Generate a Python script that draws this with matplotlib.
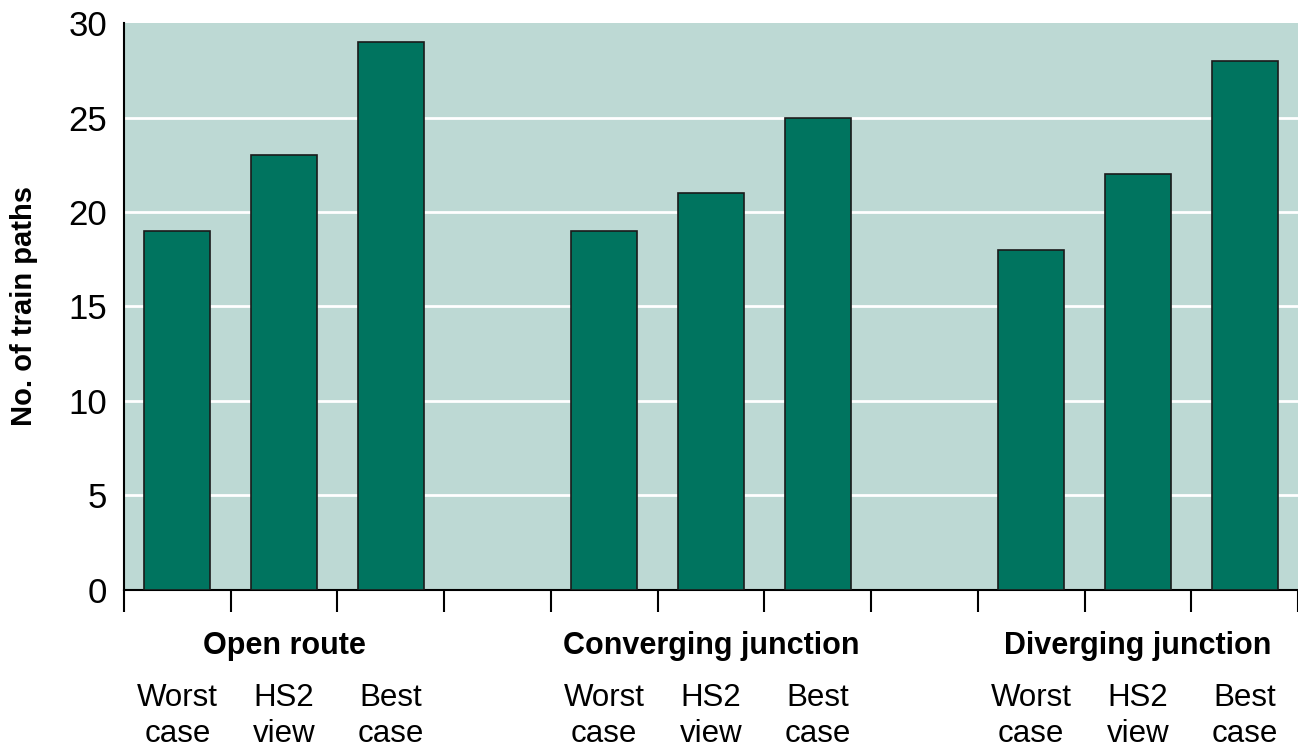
import matplotlib

matplotlib.use("Agg")
import matplotlib.pyplot as plt

plt.rcParams["font.family"] = ["Liberation Sans", "DejaVu Sans"]

groups = ["Open route", "Converging junction", "Diverging junction"]
categories = ["Worst\ncase", "HS2\nview", "Best\ncase"]
values = [
    [19, 23, 29],
    [19, 21, 25],
    [18, 22, 28],
]
y_ticks = [0, 5, 10, 15, 20, 25, 30]

BG = "#bdd9d4"
BAR = "#00745f"

fig = plt.figure(figsize=(12.98, 7.47), dpi=100)
ax = fig.add_axes([0.0955, 0.2102, 0.9045, 0.759])
ax.set_facecolor(BG)

slot = 0
for g, (group, vals) in enumerate(zip(groups, values)):
    for c, (cat, v) in enumerate(zip(categories, vals)):
        x = slot + 0.5
        ax.bar(x, v, width=0.62, color=BAR, edgecolor="#1a1a1a", linewidth=1.2, zorder=3)
        ax.text(x, -0.222, cat, transform=ax.get_xaxis_transform(), ha="center", va="center",
                fontsize=22.5, linespacing=1.25)
        if c == 1:
            ax.text(x, -0.099, group, transform=ax.get_xaxis_transform(), ha="center",
                    va="center", fontsize=22, fontweight="bold")
        slot += 1
    if g < len(groups) - 1:
        slot += 1

ax.set_xlim(0, slot)
ax.set_ylim(0, 30)
ax.set_xticks(range(slot + 1))
ax.set_xticklabels([])
ax.tick_params(axis="x", length=16, width=1.5, direction="out")
ax.set_yticks(y_ticks)
ax.set_yticklabels([str(t) for t in y_ticks], fontsize=25)
ax.tick_params(axis="y", length=0, pad=12)

for t in y_ticks[1:-1]:
    ax.axhline(t, color="white", linewidth=2, zorder=1)

ax.set_ylabel("No. of train paths", fontsize=21, fontweight="bold", labelpad=22)

for side in ("top", "right"):
    ax.spines[side].set_visible(False)
ax.spines["left"].set_linewidth(1.5)
ax.spines["bottom"].set_linewidth(1.5)

fig.savefig("out.png", dpi=100)
